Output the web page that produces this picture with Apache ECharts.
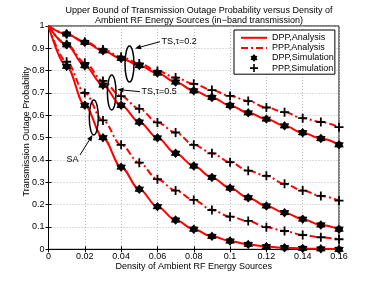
<!DOCTYPE html>
<html>
<head>
<meta charset="utf-8">
<script src="https://cdn.jsdelivr.net/npm/echarts@6/dist/echarts.min.js"></script>
<style>
html,body{margin:0;padding:0;background:#fff;}
#c{width:374px;height:281px;}
</style>
</head>
<body>
<div id="c"></div>
<script>
// ---- data ----
const density = [0, 0.01, 0.02, 0.03, 0.04, 0.05, 0.06, 0.07, 0.08, 0.09, 0.10, 0.11, 0.12, 0.13, 0.14, 0.15, 0.16];
const ts02_dpp = [1, 0.964, 0.927, 0.889, 0.855, 0.823, 0.789, 0.749, 0.710, 0.680, 0.644, 0.611, 0.583, 0.553, 0.522, 0.496, 0.468];
const ts02_ppp = [1, 0.964, 0.930, 0.895, 0.862, 0.832, 0.799, 0.769, 0.741, 0.713, 0.687, 0.664, 0.635, 0.614, 0.587, 0.570, 0.547];
const ts05_dpp = [1, 0.916, 0.822, 0.735, 0.645, 0.570, 0.499, 0.430, 0.373, 0.322, 0.274, 0.231, 0.194, 0.164, 0.135, 0.109, 0.090];
const ts05_ppp = [1, 0.918, 0.835, 0.754, 0.686, 0.629, 0.568, 0.523, 0.468, 0.430, 0.390, 0.352, 0.329, 0.293, 0.263, 0.239, 0.218];
const sa_dpp   = [1, 0.819, 0.645, 0.500, 0.368, 0.269, 0.191, 0.131, 0.090, 0.058, 0.037, 0.022, 0.012, 0.007, 0.004, 0.002, 0.000];
const sa_ppp   = [1, 0.840, 0.700, 0.577, 0.468, 0.388, 0.314, 0.263, 0.221, 0.176, 0.146, 0.127, 0.099, 0.082, 0.064, 0.054, 0.045];
const legendNames = ['DPP,Analysis', 'PPP,Analysis', 'DPP,Simulation', 'PPP,Simulation'];
const titleText = 'Upper Bound of Transmission Outage Probability versus Density of\nAmbient RF Energy Sources (in\u2212band transmission)';
const xName = 'Density of Ambient RF Energy Sources';
const yName = 'Transmission Outage Probability';

// ---- build ----
const FONT = 'Liberation Sans, Arial, sans-serif';
const pair = arr => density.map((x, i) => [x, arr[i]]);
const sim = arr => pair(arr).slice(1);
const hexagram = 'path://M10 0 L13.25 4.37 L18.66 5 L16.5 10 L18.66 15 L13.25 15.63 L10 20 L6.75 15.63 L1.34 15 L3.5 10 L1.34 5 L6.75 4.37 Z';
const plus = 'path://M4 0 H6 V4 H10 V6 H6 V10 H4 V6 H0 V4 H4 Z';

function lineSeries(name, arr, dashed) {
  return {
    name: name, type: 'line', data: pair(arr), showSymbol: false, symbol: 'none',
    smooth: 0.35, smoothMonotone: 'x',
    lineStyle: { color: '#ff0000', width: 2, type: dashed ? [7, 3, 2, 3] : 'solid' },
    itemStyle: { color: '#ff0000' }, z: 2, animation: false
  };
}
function simSeries(name, arr, isDpp) {
  return {
    name: name, type: 'scatter', data: sim(arr),
    symbol: isDpp ? hexagram : plus, symbolSize: isDpp ? 9.5 : 9,
    itemStyle: { color: '#000', opacity: 1 }, z: 3, animation: false
  };
}

const series = [
  lineSeries(legendNames[0], ts02_dpp, false),
  lineSeries(legendNames[0], ts05_dpp, false),
  lineSeries(legendNames[0], sa_dpp, false),
  lineSeries(legendNames[1], ts02_ppp, true),
  lineSeries(legendNames[1], ts05_ppp, true),
  lineSeries(legendNames[1], sa_ppp, true),
  simSeries(legendNames[2], ts02_dpp, true),
  simSeries(legendNames[2], ts05_dpp, true),
  simSeries(legendNames[2], sa_dpp, true),
  simSeries(legendNames[3], ts02_ppp, false),
  simSeries(legendNames[3], ts05_ppp, false),
  simSeries(legendNames[3], sa_ppp, false)
];

const gridLine = { show: true, lineStyle: { color: '#b8b8b8', type: [1, 2], width: 1 } };
const axisTxt = { color: '#000', fontSize: 9, fontFamily: FONT };

const chart = echarts.init(document.getElementById('c'), null, { renderer: 'canvas' });

function arrow(x1, y1, x2, y2) {
  const ang = Math.atan2(y2 - y1, x2 - x1), L = 6, W = 2.5;
  const bx = x2 - L * Math.cos(ang), by = y2 - L * Math.sin(ang);
  const nx = -Math.sin(ang) * W, ny = Math.cos(ang) * W;
  return [
    { type: 'line', shape: { x1: x1, y1: y1, x2: bx, y2: by }, style: { stroke: '#000', lineWidth: 1 } },
    { type: 'polygon', shape: { points: [[x2, y2], [bx + nx, by + ny], [bx - nx, by - ny]] }, style: { fill: '#000' } }
  ];
}
function ellipse(cx, cy, rx, ry) {
  return { type: 'ellipse', shape: { cx: cx, cy: cy, rx: rx, ry: ry }, style: { fill: 'none', stroke: '#000', lineWidth: 1.5 } };
}
function label(t, x, y, align) {
  return { type: 'text', x: x, y: y, style: { text: t, fill: '#000', fontSize: 9, fontFamily: FONT, align: align || 'left', verticalAlign: 'middle' } };
}

const graphics = [].concat(
  [ellipse(129.5, 64, 4.5, 18)], arrow(160, 41.7, 135, 48.5), [label('TS,\u03c4=0.2', 161.5, 41.7)],
  [ellipse(111.7, 92.5, 4.3, 17.5)], arrow(140, 91.7, 117.5, 89.5), [label('TS,\u03c4=0.5', 141.5, 91.7)],
  [ellipse(93.8, 117.5, 4.5, 17.5)], arrow(80, 155, 92.5, 135), [label('SA', 78.5, 159.5, 'right')]
).map(g => Object.assign({ z: 10 }, g));

chart.setOption({
  animation: false,
  backgroundColor: '#fff',
  title: {
    text: titleText, left: 194, textAlign: 'center', top: 1,
    textStyle: { fontSize: 9, fontWeight: 'normal', color: '#000', fontFamily: FONT, lineHeight: 10 }
  },
  grid: { left: 48.5, right: 35, top: 26, bottom: 31.7, show: true, borderColor: '#000', borderWidth: 1 },
  legend: {
    data: legendNames.map((n, i) => i < 2 ? { name: n, itemStyle: { opacity: 0 } } : { name: n }),
    orient: 'vertical', left: 234, top: 30,
    itemWidth: 26, itemHeight: 8, itemGap: 1.1,
    padding: [3.3, 1, 1.6, 6],
    backgroundColor: '#fff', borderColor: '#000', borderWidth: 1,
    textStyle: { fontSize: 9, color: '#000', fontFamily: FONT, lineHeight: 8 }
  },
  xAxis: [{
    type: 'value', min: 0, max: 0.16, interval: 0.02,
    name: xName, nameLocation: 'middle', nameGap: 13, nameMoveOverlap: false,
    nameTextStyle: { fontSize: 9, color: '#000', fontFamily: FONT },
    axisLine: { show: true, lineStyle: { color: '#000' } },
    axisTick: { show: true, inside: true, length: 3, lineStyle: { color: '#000' } },
    axisLabel: Object.assign({ margin: 3 }, axisTxt),
    splitLine: gridLine
  }, {
    type: 'value', min: 0, max: 0.16, interval: 0.02, position: 'top',
    axisLine: { show: true, lineStyle: { color: '#000' } },
    axisTick: { show: true, inside: true, length: 3, lineStyle: { color: '#000' } },
    axisLabel: { show: false }, splitLine: { show: false }
  }],
  yAxis: [{
    type: 'value', min: 0, max: 1, interval: 0.1,
    name: yName, nameLocation: 'middle', nameGap: 17.5, nameMoveOverlap: false,
    nameTextStyle: { fontSize: 9, color: '#000', fontFamily: FONT, padding: [0, 0, 0, 12] },
    axisLine: { show: true, lineStyle: { color: '#000' } },
    axisTick: { show: true, inside: true, length: 3, lineStyle: { color: '#000' } },
    axisLabel: Object.assign({ margin: 4 }, axisTxt),
    splitLine: gridLine
  }, {
    type: 'value', min: 0, max: 1, interval: 0.1, position: 'right',
    axisLine: { show: true, lineStyle: { color: '#000' } },
    axisTick: { show: true, inside: true, length: 3, lineStyle: { color: '#000' } },
    axisLabel: { show: false }, splitLine: { show: false }
  }],
  series: series,
  graphic: graphics
});
</script>
</body>
</html>
